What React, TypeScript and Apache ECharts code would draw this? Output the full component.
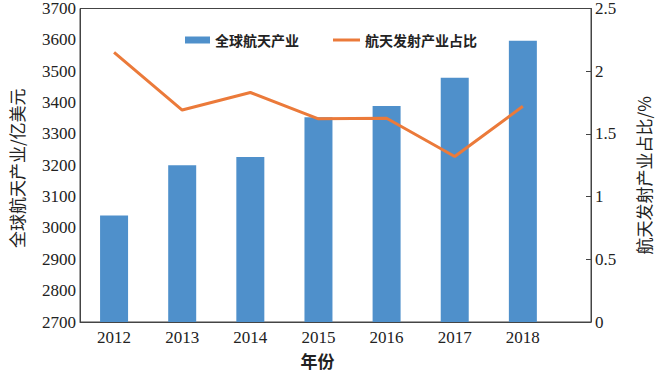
import React, { useEffect, useRef } from "react";
import * as echarts from "echarts";

const years = [2012, 2013, 2014, 2015, 2016, 2017, 2018];
const industryValues = [3040, 3200, 3226, 3353, 3389, 3479, 3597];
const launchShare = [2.15, 1.69, 1.83, 1.62, 1.625, 1.32, 1.72];
const barName = "全球航天产业";
const lineName = "航天发射产业占比";

const serif = "Liberation Serif";
const cjk = "Noto Sans CJK SC";

export default function App() {
  const ref = useRef<HTMLDivElement>(null);
  useEffect(() => {
    if (!ref.current) return;
    const chart = echarts.init(ref.current, null, { renderer: "svg" });
    const legendText = { fontFamily: cjk, fontSize: 14, fontWeight: "bold", color: "#222" };
    chart.setOption({
      animation: false,
      backgroundColor: "#ffffff",
      grid: {
        left: 70,
        right: 52,
        top: 8,
        bottom: 51,
        show: true,
        borderColor: "#444",
        borderWidth: 1,
        backgroundColor: "transparent",
      },
      legend: [
        {
          top: 33,
          left: 185,
          padding: 0,
          itemWidth: 25,
          itemHeight: 7,
          textStyle: legendText,
          data: [{ name: barName, icon: "rect" }],
        },
        {
          top: 33,
          left: 333,
          padding: 0,
          itemWidth: 27,
          itemHeight: 3,
          textStyle: legendText,
          data: [{ name: lineName, icon: "rect" }],
        },
      ],
      xAxis: {
        type: "value",
        min: 2011.5,
        max: 2019,
        name: "年份",
        nameLocation: "middle",
        nameGap: 30,
        nameTextStyle: { fontFamily: cjk, fontSize: 17, fontWeight: "bold", color: "#222", padding: [0, 36, 0, 0] },
        axisLine: { show: true, lineStyle: { color: "#444", width: 1 } },
        axisTick: { show: false },
        splitLine: { show: false },
        axisLabel: {
          customValues: years,
          fontFamily: serif,
          fontSize: 17,
          color: "#222",
          margin: 7,
          formatter: (v: number) => String(v),
        },
      },
      yAxis: [
        {
          type: "value",
          min: 2700,
          max: 3700,
          interval: 100,
          name: "全球航天产业/亿美元",
          nameLocation: "middle",
          nameGap: 55,
          nameRotate: 90,
          nameTextStyle: { fontFamily: cjk, fontSize: 17, color: "#222", padding: [0, 6, 0, 0] },
          axisLine: { show: true, lineStyle: { color: "#444", width: 1 } },
          axisTick: { show: false },
          splitLine: { show: false },
          axisLabel: {
            fontFamily: serif,
            fontSize: 17,
            color: "#222",
            margin: 4,
            formatter: (v: number) => String(v),
          },
        },
        {
          type: "value",
          min: 0,
          max: 2.5,
          interval: 0.5,
          position: "right",
          name: "航天发射产业占比/%",
          nameLocation: "middle",
          nameGap: 44,
          nameRotate: 90,
          nameTextStyle: { fontFamily: cjk, fontSize: 17, color: "#222", padding: [0, 20, 0, 0] },
          axisLine: { show: true, lineStyle: { color: "#444", width: 1 } },
          axisTick: { show: true, inside: true, length: 5, lineStyle: { color: "#444" } },
          splitLine: { show: false },
          axisLabel: { fontFamily: serif, fontSize: 17, color: "#222", margin: 4 },
        },
      ],
      series: [
        {
          name: barName,
          type: "bar",
          yAxisIndex: 0,
          barWidth: 28,
          itemStyle: { color: "#4F90CB" },
          data: years.map((y, i) => [y, industryValues[i]]),
        },
        {
          name: lineName,
          type: "line",
          yAxisIndex: 1,
          symbol: "none",
          lineStyle: { color: "#EB7A3A", width: 3 },
          itemStyle: { color: "#EB7A3A" },
          data: years.map((y, i) => [y, launchShare[i]]),
        },
      ],
    });
    return () => chart.dispose();
  }, []);
  return <div ref={ref} style={{ width: 660, height: 374, position: "absolute", left: 0, top: 0 }} />;
}
